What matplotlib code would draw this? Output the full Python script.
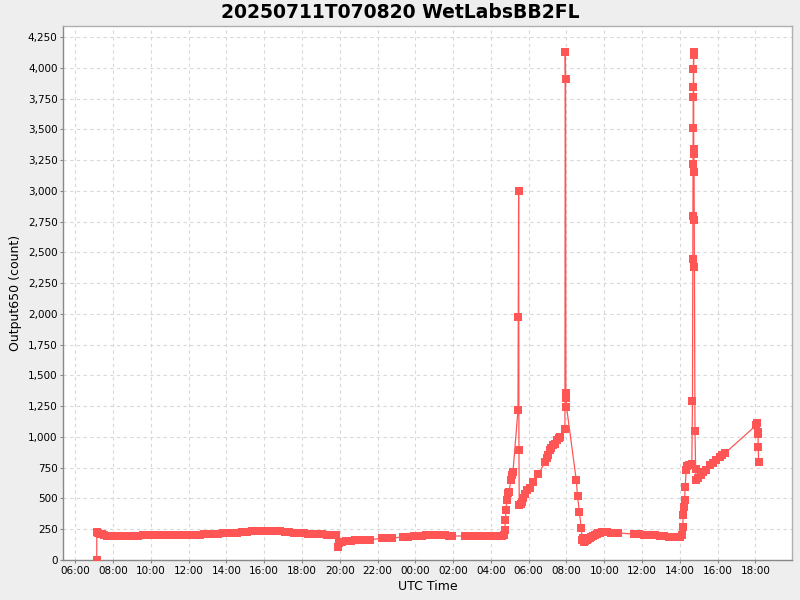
import matplotlib
matplotlib.use("Agg")
import matplotlib.pyplot as plt
import matplotlib.dates as mdates
from matplotlib.ticker import FuncFormatter, MultipleLocator
import pandas as pd

title = "20250711T070820 WetLabsBB2FL"
x_label = "UTC Time"
y_label = "Output650 (count)"

day1_times = ["07:08:20", "07:08:50", "07:12", "07:18", "07:25", "07:32", "07:40", "07:50",
              "08:05", "08:20", "08:35", "08:50", "09:05", "09:20", "09:35", "09:50",
              "10:05", "10:20", "10:35", "10:50", "11:05", "11:20", "11:35", "11:50",
              "12:05", "12:20", "12:35", "12:50", "13:05", "13:20", "13:35", "13:50",
              "14:05", "14:20", "14:35", "14:50", "15:05", "15:20", "15:35", "15:50",
              "16:05", "16:20", "16:35", "16:50", "17:05", "17:20", "17:35", "17:50",
              "18:05", "18:20", "18:35", "18:50", "19:05", "19:20", "19:35", "19:48",
              "19:53", "19:58", "20:08", "20:20", "20:35", "20:50", "21:05", "21:20",
              "21:35", "22:15", "22:28", "22:45", "23:22", "23:38", "23:55"]
day1_values = [0, 225, 222, 215, 208, 202, 198, 196,
               195, 195, 195, 195, 195, 195, 200, 200,
               200, 200, 200, 200, 200, 201, 205, 205,
               205, 205, 206, 210, 210, 211, 213, 216,
               218, 220, 222, 229, 230, 232, 234, 238,
               238, 236, 235, 234, 226, 225, 220, 218,
               217, 215, 210, 209, 208, 207, 206, 205,
               108, 140, 150, 152, 155, 160, 162, 163,
               165, 176, 176, 178, 187, 187, 195]

day2_times = ["00:08", "00:20", "00:35", "00:50", "01:05", "01:20", "01:35", "01:48",
              "01:58", "02:38", "02:50", "03:05", "03:20", "03:35", "03:50", "04:05",
              "04:20", "04:35", "04:42", "04:44", "04:46", "04:48", "04:51", "04:55",
              "04:58", "05:03", "05:07", "05:10", "05:26", "05:27", "05:28", "05:29",
              "05:30", "05:34", "05:38", "05:42", "05:48", "05:55", "06:04", "06:15",
              "06:31", "06:52", "06:58", "07:02", "07:08", "07:12", "07:18", "07:22",
              "07:29", "07:35", "07:40", "07:55", "07:56", "07:57", "07:58", "07:59",
              "08:00", "08:31", "08:35", "08:41", "08:47", "08:50", "08:52", "08:54",
              "08:59", "09:04", "09:09", "09:14", "09:18", "09:25", "09:31", "09:36",
              "09:41", "09:47", "09:53", "10:00", "10:09", "10:20", "10:32", "10:45",
              "11:35", "11:42", "11:50", "12:05", "12:14", "12:25", "12:40", "12:57",
              "13:10", "13:25", "13:39", "13:50", "14:00", "14:06", "14:09", "14:11",
              "14:13", "14:15", "14:17", "14:20", "14:22", "14:30", "14:38", "14:40:00",
              "14:41:00", "14:41:20", "14:41:40", "14:42:00", "14:42:20", "14:42:40",
              "14:43:00", "14:43:20", "14:43:40", "14:44:00", "14:44:30", "14:45:00",
              "14:45:30", "14:46:00", "14:48", "14:50", "14:52", "14:58", "15:06",
              "15:14", "15:24", "15:35", "15:45", "15:56", "16:07", "16:15", "16:23",
              "18:03", "18:05", "18:07", "18:08", "18:09", "18:10"]
day2_values = [198, 198, 200, 200, 200, 200, 200, 198,
               195, 195, 195, 195, 195, 195, 195, 195,
               195, 196, 200, 244, 325, 406, 487, 542,
               553, 650, 691, 715, 1219, 1977, 3000, 894,
               447, 455, 470, 505, 540, 569, 585, 634,
               696, 799, 829, 853, 894, 910, 934, 943,
               975, 991, 1002, 1062, 4130, 3910, 1357, 1314,
               1246, 650, 520, 388, 258, 163, 176, 144,
               154, 162, 171, 180, 187, 195, 203, 210,
               219, 222, 228, 228, 228, 222, 219, 219,
               211, 210, 208, 205, 203, 203, 200, 195,
               195, 190, 187, 187, 187, 200, 271, 366,
               433, 488, 596, 731, 764, 772, 778, 1292,
               2443, 2798, 3216, 3513, 3765, 3846,
               3987, 4104, 4130, 3337, 3297, 3151,
               2763, 2379, 1048, 739, 650, 664, 690,
               718, 731, 772, 790, 813, 840, 855, 867,
               1097, 1110, 1043, 1020, 921, 794]

times = pd.to_datetime(["2025-07-11 " + t for t in day1_times] +
                       ["2025-07-12 " + t for t in day2_times], format="mixed")
values = day1_values + day2_values

fig = plt.figure(figsize=(8, 6), dpi=100, facecolor="#EEEEEE")
ax = fig.add_axes([0.079, 0.0667, 0.911, 0.89])
ax.set_facecolor("white")

color = "#FF5555"
ax.plot(times, values, color=color, linewidth=0.9, marker="s", markersize=5.8,
        markeredgewidth=0, markerfacecolor=color, zorder=3)

ax.set_xlim(pd.Timestamp("2025-07-11 05:22"), pd.Timestamp("2025-07-12 19:56"))
ax.set_ylim(0, 4340)

ax.xaxis.set_major_locator(mdates.HourLocator(byhour=range(0, 24, 2)))
ax.xaxis.set_major_formatter(mdates.DateFormatter("%H:%M"))
ax.yaxis.set_major_locator(MultipleLocator(250))
ax.yaxis.set_major_formatter(FuncFormatter(lambda v, p: f"{int(v):,}"))

ax.grid(True, color="#D8D8D8", linestyle=(0, (3, 3)), linewidth=0.8)
ax.set_axisbelow(True)

for s in ax.spines.values():
    s.set_color("#B0B0B0")
    s.set_linewidth(1.0)
ax.spines["left"].set_color("#888888")
ax.spines["bottom"].set_color("#888888")

ax.tick_params(axis="both", labelsize=7.5, length=2, width=0.8, color="#888888",
               direction="out", pad=2)

ax.set_xlabel(x_label, fontsize=9, labelpad=3)
ax.set_ylabel(y_label, fontsize=9, labelpad=4)
fig.text(0.5, 0.98, title, ha="center", va="center", fontsize=13.5, fontweight="bold")

fig.savefig("out.png", dpi=100, facecolor=fig.get_facecolor())
